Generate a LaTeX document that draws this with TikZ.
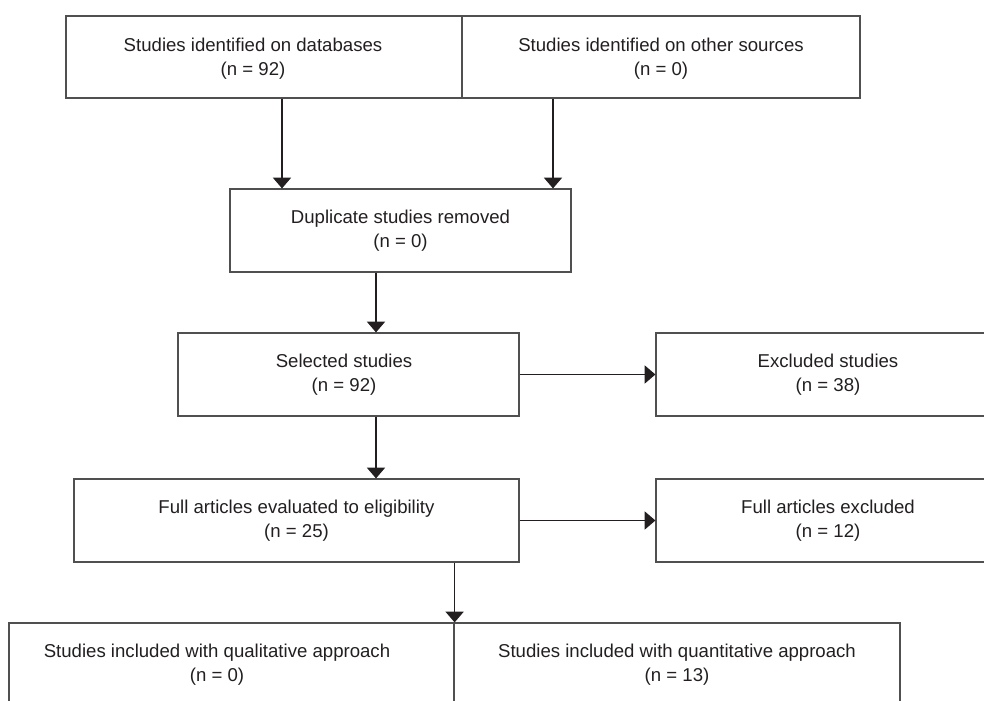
\documentclass[tikz,border=0pt]{standalone}
\usepackage{fontspec}
\setmainfont{Liberation Sans}
\usetikzlibrary{arrows.meta}
\definecolor{ink}{HTML}{231F20}
\definecolor{edgegray}{HTML}{505050}
\begin{document}
\begin{tikzpicture}[x=0.75pt,y=-0.75pt,
  box/.style={draw=edgegray, line width=0.9pt, inner sep=0pt, rectangle, minimum height=62.25pt},
  txt/.style={text=ink, align=center, font=\fontsize{13.95pt}{18pt}\selectfont, inner sep=0pt},
  arr/.style={draw=ink, line width=0.9pt, -{Triangle[length=8pt,width=13.5pt]}}]
\clip (0,0) rectangle (984,700);
% boxes
\node[box, minimum width=297pt, minimum height=61.5pt] (tl) at (264,57) {};
\node[box, minimum width=298.5pt, minimum height=61.5pt] (tr) at (661,57) {};
\node[box, minimum width=255.75pt] (dup) at (400.5,230.5) {};
\node[box, minimum width=255.75pt] (sel) at (348.5,374.5) {};
\node[box, minimum width=258pt] (excl) at (828,374.5) {};
\node[box, minimum width=333.75pt] (full) at (296.5,520.5) {};
\node[box, minimum width=258pt] (fexcl) at (828,520.5) {};
\node[box, minimum width=333.75pt] (bl) at (231.5,664.5) {};
\node[box, minimum width=334.5pt] (br) at (677,664.5) {};
% texts
\node[txt] (tlt) at (253,59) {Studies identified on databases\\(n = 92)};
\node[txt] (trt) at (661,59) {Studies identified on other sources\\(n = 0)};
\node[txt] (dupt) at (400.5,230.5) {Duplicate studies removed\\(n = 0)};
\node[txt] (selt) at (344,374.5) {Selected studies\\(n = 92)};
\node[txt] (exclt) at (828,374.5) {Excluded studies\\(n = 38)};
\node[txt] (fullt) at (296.5,520.5) {Full articles evaluated to eligibility\\(n = 25)};
\node[txt] (fexclt) at (828,520.5) {Full articles excluded\\(n = 12)};
\node[txt] (blt) at (217,664.5) {Studies included with qualitative approach\\(n = 0)};
\node[txt] (brt) at (677,664.5) {Studies included with quantitative approach\\(n = 13)};
% connector columns
\coordinate (c1) at (282,0);
\coordinate (c2) at (553,0);
\coordinate (c3) at (376,0);
% connectors
\draw[arr] (tl.south -| c1) -- (dup.north -| c1);
\draw[arr] (tr.south -| c2) -- (dup.north -| c2);
\draw[arr] (dup.south -| c3) -- (sel.north -| c3);
\draw[arr] (sel.east) -- (excl.west);
\draw[arr] (sel.south -| c3) -- (full.north -| c3);
\draw[arr] (full.east) -- (fexcl.west);
\draw[arr] (full.south -| bl.north east) -- (bl.north east);
\end{tikzpicture}
\end{document}
